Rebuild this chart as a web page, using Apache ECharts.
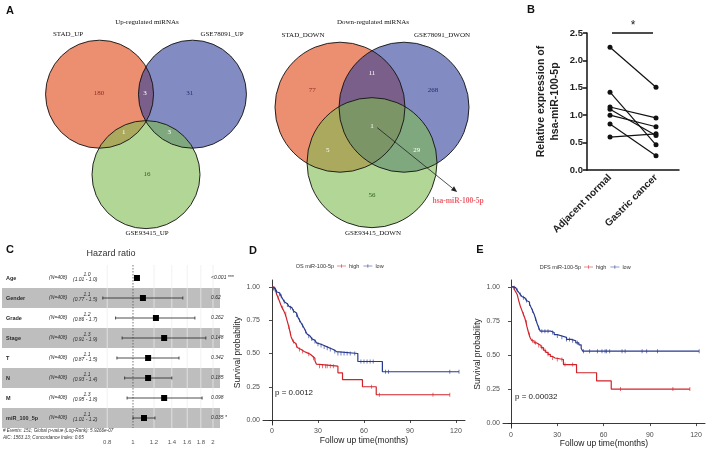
<!DOCTYPE html>
<html><head><meta charset="utf-8">
<script src="https://cdn.jsdelivr.net/npm/echarts@6/dist/echarts.min.js"></script>
<style>html,body{margin:0;padding:0;background:#fff}#c{width:708px;height:449px}</style>
</head><body><div id="c"></div>
<script>
// ================= DATA =================
// Panel A – Venn diagrams
const upTitle = 'Up-regulated miRNAs';
const upSetNames = ['STAD_UP', 'GSE78091_UP', 'GSE93415_UP'];
const upCounts = [180, 3, 31, 1, 3, 16];            // A, AB, B, AC, BC, C
const downTitle = 'Down-regulated miRNAs';
const downSetNames = ['STAD_DOWN', 'GSE78091_DWON', 'GSE93415_DOWN'];
const downCounts = [77, 11, 268, 1, 5, 29, 56];     // A, AB, B, ABC, AC, BC, C
const highlightMiRNA = 'hsa-miR-100-5p';

// Panel B – paired expression
const pairCategories = ['Adjacent normal', 'Gastric cancer'];
const adjacentNormal = [2.24, 1.42, 1.15, 1.11, 1.00, 0.84, 0.60];
const gastricCancer  = [1.51, 0.46, 0.95, 0.63, 0.79, 0.26, 0.66];
const sigMark = '*';
const bTicks = [0, 2.5, 0.5];

// Panel C – Cox forest plot
const coxVars   = ['Age', 'Gender', 'Grade', 'Stage', 'T', 'N', 'M', 'miR_100_5p'];
const coxN      = ['(N=408)', '(N=408)', '(N=408)', '(N=408)', '(N=408)', '(N=408)', '(N=408)', '(N=408)'];
const coxHR     = [1.035, 1.09, 1.22, 1.31, 1.14, 1.14, 1.31, 1.10];
const coxLo     = [1.02, 0.77, 0.86, 0.91, 0.87, 0.93, 0.95, 1.00];
const coxHi     = [1.05, 1.54, 1.71, 1.88, 1.49, 1.40, 1.82, 1.21];
const coxHRText = ['1.0', '1.1', '1.2', '1.3', '1.1', '1.1', '1.3', '1.1'];
const coxCIText = ['(1.01 - 1.0)', '(0.77 - 1.5)', '(0.86 - 1.7)', '(0.91 - 1.9)', '(0.87 - 1.5)', '(0.93 - 1.4)', '(0.95 - 1.8)', '(1.01 - 1.2)'];
const coxP      = ['<0.001 ***', '0.62', '0.262', '0.148', '0.342', '0.185', '0.098', '0.035 *'];
const hrTicks   = [0.8, 1, 1.2, 1.4, 1.6, 1.8, 2];
const coxFooter = ['# Events: 151; Global p-value (Log-Rank): 5.9266e-07', 'AIC: 1563.13; Concordance Index: 0.65'];

// Panel D – OS Kaplan-Meier  [time, survival]
const osHigh = [[0,1],[1.5,0.985],[2.5,0.97],[3,0.945],[4,0.92],[5,0.89],[5.8,0.865],[6.5,0.845],[7.5,0.825],[8.5,0.80],[9.2,0.775],[9.8,0.75],[10.4,0.725],[11,0.70],[11.5,0.675],[12,0.65],[12.5,0.625],[13,0.61],[13.8,0.59],[14.5,0.575],[15.5,0.56],[16.5,0.545],[17.5,0.53],[19,0.515],[21,0.505],[23,0.495],[25,0.48],[26.5,0.465],[28,0.445],[29,0.42],[30,0.405],[43,0.355],[46,0.303],[59,0.25],[68,0.19],[116,0.19]];
const osLow = [[0,1],[1,0.99],[2,0.98],[3,0.965],[4,0.955],[5,0.945],[6,0.93],[7,0.91],[8,0.89],[9,0.875],[10,0.865],[11,0.855],[12,0.845],[13,0.835],[14,0.82],[15,0.805],[16,0.79],[17,0.77],[18,0.75],[19,0.73],[20,0.71],[21,0.69],[22,0.665],[23,0.645],[24,0.63],[25,0.62],[26,0.61],[27,0.60],[28,0.59],[29,0.58],[30,0.57],[32,0.56],[34,0.55],[36,0.54],[38,0.53],[40,0.515],[42,0.50],[56,0.44],[72,0.363],[122,0.363]];
const osHighCensor = [4,7,9,11,12,14,16,18,20,24,27,31,33,35,36,38,40,65,70,105,116];
const osLowCensor = [1,2,3,5,6,8,10,12,14,16,18,20,22,24,26,28,30,32,34,36,38,41,43,45,47,49,51,54,58,60,62,64,66,74,76,116,122];
const osP = 'p = 0.0012';
const osLegendTitle = 'OS miR-100-5p';

// Panel E – DFS Kaplan-Meier
const dfsHigh = [[0,1],[2,0.985],[3,0.965],[4,0.945],[5,0.90],[6,0.86],[7,0.83],[8,0.80],[9,0.77],[9.7,0.74],[10.3,0.71],[11,0.68],[11.7,0.65],[12.5,0.625],[13.5,0.605],[15,0.59],[16.5,0.58],[18,0.57],[19.5,0.555],[21,0.535],[22.5,0.52],[24,0.505],[25.5,0.49],[27,0.478],[28.5,0.467],[34,0.43],[42.5,0.37],[55.5,0.31],[65,0.25],[116,0.25]];
const dfsLow = [[0,1],[1.5,0.995],[3,0.985],[4,0.975],[5,0.96],[6,0.945],[7,0.93],[8,0.92],[9,0.91],[10,0.90],[11,0.89],[12,0.875],[13,0.85],[14,0.825],[15,0.80],[16,0.765],[17,0.73],[18,0.70],[19,0.675],[26,0.665],[28,0.65],[30,0.64],[33,0.63],[36,0.615],[39,0.605],[42,0.59],[44,0.575],[45.5,0.55],[46.5,0.528],[122,0.528]];
const dfsHighCensor = [8,10,12,14,16,18,20,22,24,27,30,33,35,40,71,105,116];
const dfsLowCensor = [2,4,6,8,10,12,14,16,18,20,22,24,27,30,33,36,38,40,43,47,51,56,59,61,62,64,72,74,85,88,95,122];
const dfsP = 'p = 0.00032';
const dfsLegendTitle = 'DFS miR-100-5p';
const kmTicksX = [0, 30, 60, 90, 120];
const kmTicksY = [0, 0.25, 0.5, 0.75, 1];

// ================= RENDER =================
const FONT = 'Liberation Sans';
const SERIF = 'Liberation Serif';
const RED = '#d2232a', BLUE = '#283a8f';
const chart = echarts.init(document.getElementById('c'), null, {renderer: 'canvas', width: 708, height: 449});

function vennCenters(s) { const h = s * Math.sqrt(3) / 2; return [[-s / 2, h / 3], [s / 2, h / 3], [0, -2 * h / 3]]; }
const vennFill = ['rgba(223,67,17,0.6)', 'rgba(47,63,155,0.6)', 'rgba(127,187,80,0.6)'];

function vennCircles(gi, s, stroke) {
  return {
    type: 'custom', xAxisIndex: gi, yAxisIndex: gi, silent: true, z: stroke ? 3 : 2,
    data: vennCenters(s).map((c, i) => [c[0], c[1], i]),
    renderItem(params, api) {
      const p = api.coord([api.value(0), api.value(1)]);
      const r = api.size([1, 1])[0];
      return {type: 'circle', shape: {cx: p[0], cy: p[1], r: r},
        style: stroke ? {fill: 'none', stroke: '#111', lineWidth: 0.9} : {fill: vennFill[api.value(2)]}};
    }
  };
}
function vennLabels(gi, pos, counts, colors) {
  return {
    type: 'custom', xAxisIndex: gi, yAxisIndex: gi, silent: true, z: 4,
    data: counts.map((c, i) => [pos[i][0], pos[i][1], c, i]),
    renderItem(params, api) {
      const p = api.coord([api.value(0), api.value(1)]);
      return {type: 'text', x: p[0], y: p[1], style: {text: String(api.value(2)), fill: colors[api.value(3)],
        font: '7px ' + SERIF, align: 'center', verticalAlign: 'middle'}};
    }
  };
}
const upLabelPos = [[-0.87, 0.52], [-0.02, 0.52], [0.81, 0.52], [-0.41, -0.2], [0.43, -0.2], [0.02, -0.98]];
const upLabelColor = ['#8e2d1e', '#fff', '#222b6b', '#fff', '#fff', '#2c5e1e'];
const downLabelPos = [[-0.92, 0.55], [0, 0.81], [0.94, 0.55], [0, 0], [-0.68, -0.37], [0.69, -0.37], [0, -1.07]];
const downLabelColor = ['#8e2d1e', '#fff', '#222b6b', '#fff', '#fff', '#fff', '#2c5e1e'];

const arrowSeries = {
  type: 'custom', xAxisIndex: 1, yAxisIndex: 1, silent: true, z: 5,
  data: [[0.08, -0.03, 1.31, -1.02]],
  renderItem(params, api) {
    const a = api.coord([api.value(0), api.value(1)]);
    const b = api.coord([api.value(2), api.value(3)]);
    const ang = Math.atan2(b[1] - a[1], b[0] - a[0]);
    const L = 6, W = 2.5;
    const bx = b[0] - L * Math.cos(ang), by = b[1] - L * Math.sin(ang);
    return {type: 'group', children: [
      {type: 'line', shape: {x1: a[0], y1: a[1], x2: bx, y2: by}, style: {stroke: '#222', lineWidth: 0.8}},
      {type: 'polygon', shape: {points: [[b[0], b[1]], [bx - W * Math.sin(ang), by + W * Math.cos(ang)], [bx + W * Math.sin(ang), by - W * Math.cos(ang)]]}, style: {fill: '#222'}},
      {type: 'text', x: b[0] + 1, y: b[1] + 9, style: {text: highlightMiRNA, fill: '#f0646e', font: 'bold 7.5px ' + SERIF, align: 'center', verticalAlign: 'middle'}}
    ]};
  }
};

// Panel B series
const pairSeries = adjacentNormal.map((v, i) => ({
  type: 'line', xAxisIndex: 2, yAxisIndex: 2, data: [v, gastricCancer[i]], symbol: 'circle', symbolSize: 5,
  itemStyle: {color: '#111'}, lineStyle: {color: '#111', width: 1.2}, silent: true
}));
const sigSeries = {
  type: 'custom', xAxisIndex: 2, yAxisIndex: 2, silent: true, clip: false,
  data: [[0, 1, 2.5]],
  renderItem(params, api) {
    const a = api.coord([api.value(0), api.value(2)]);
    const b = api.coord([api.value(1), api.value(2)]);
    return {type: 'group', children: [
      {type: 'line', shape: {x1: a[0] + 2, y1: a[1], x2: b[0] - 3, y2: b[1]}, style: {stroke: '#111', lineWidth: 1.4}},
      {type: 'text', x: (a[0] + b[0]) / 2, y: a[1] - 7, style: {text: sigMark, fill: '#222', font: '12px ' + FONT, align: 'center', verticalAlign: 'middle'}}
    ]};
  }
};

// Panel C series
const L = Math.log;
const bandSeries = {
  type: 'custom', xAxisIndex: 3, yAxisIndex: 3, silent: true, z: 1,
  data: coxVars.map((v, i) => [0, i]),
  renderItem(params, api) {
    const row = api.value(1);
    if (row % 2 === 0) return null;
    const c = api.coord([0, row]);
    const h = api.size([0, 1])[1];
    const cs = params.coordSys;
    return {type: 'rect', shape: {x: cs.x, y: c[1] - h / 2, width: cs.width, height: h}, style: {fill: '#bebebe'}};
  }
};
const gridLineSeries = {
  type: 'custom', xAxisIndex: 3, yAxisIndex: 3, silent: true, z: 2, clip: false,
  data: hrTicks.map(v => [L(v), v]),
  renderItem(params, api) {
    const x = api.coord([api.value(0), 0])[0];
    const cs = params.coordSys;
    const ref = api.value(1) === 1;
    return {type: 'line', shape: {x1: x, y1: cs.y - 3, x2: x, y2: cs.y + cs.height},
      style: ref ? {stroke: '#555', lineWidth: 0.8, lineDash: [1.5, 1.5]} : {stroke: 'rgba(235,235,235,0.9)', lineWidth: 0.8}};
  }
};
const forestSeries = {
  type: 'custom', xAxisIndex: 3, yAxisIndex: 3, silent: true, z: 3, clip: false,
  data: coxHR.map((v, i) => [i, L(v), L(coxLo[i]), L(coxHi[i])]),
  renderItem(params, api) {
    const row = api.value(0);
    const p = api.coord([api.value(1), row]);
    const lo = api.coord([api.value(2), row]);
    const hi = api.coord([api.value(3), row]);
    const y = p[1];
    return {type: 'group', children: [
      {type: 'line', shape: {x1: lo[0], y1: y, x2: hi[0], y2: y}, style: {stroke: '#222', lineWidth: 0.8}},
      {type: 'line', shape: {x1: lo[0], y1: y - 1.5, x2: lo[0], y2: y + 1.5}, style: {stroke: '#222', lineWidth: 0.8}},
      {type: 'line', shape: {x1: hi[0], y1: y - 1.5, x2: hi[0], y2: y + 1.5}, style: {stroke: '#222', lineWidth: 0.8}},
      {type: 'rect', shape: {x: p[0] - 3, y: y - 3, width: 6, height: 6}, style: {fill: '#000'}}
    ]};
  }
};
const forestTextSeries = {
  type: 'custom', xAxisIndex: 3, yAxisIndex: 3, silent: true, z: 4, clip: false,
  data: coxVars.map((v, i) => [0, i]),
  renderItem(params, api) {
    const i = api.value(1);
    const y = api.coord([0, i])[1];
    const x0 = params.coordSys.x;
    const t = (txt, x, yy, font, align) => ({type: 'text', x: x, y: yy, style: {text: txt, fill: '#2a2a2a', font: font, align: align || 'left', verticalAlign: 'middle'}});
    return {type: 'group', children: [
      t(coxVars[i], x0 + 4, y, 'bold 5.5px ' + FONT),
      t(coxN[i], x0 + 47, y, 'italic 5px ' + FONT),
      t(coxHRText[i], x0 + 85, y - 3, 'italic 5px ' + FONT, 'center'),
      t(coxCIText[i], x0 + 71, y + 1.5, 'italic 5px ' + FONT),
      t(coxP[i], x0 + 209, y, 'italic 5px ' + FONT)
    ]};
  }
};

// Panel D/E helpers
function survAt(curve, t) { let s = 1; for (const [ti, si] of curve) { if (ti <= t) s = si; } return s; }
function kmLine(name, data, color, gi) {
  return {type: 'line', name: name, xAxisIndex: gi, yAxisIndex: gi, data: data, step: 'end', symbol: 'none',
    lineStyle: {color: color, width: 1.2}, itemStyle: {color: color}, silent: true};
}
function kmCensor(curve, times, color, gi) {
  return {type: 'scatter', name: 'censor', xAxisIndex: gi, yAxisIndex: gi, data: times.map(t => [t, survAt(curve, t)]),
    symbol: 'rect', symbolSize: [0.8, 4], itemStyle: {color: color}, silent: true, z: 3};
}
function kmX(gi, min, max, gap) {
  return {gridIndex: gi, type: 'value', min: min, max: max, splitLine: {show: false},
    axisLine: {lineStyle: {color: '#222', width: 0.9}},
    axisTick: {customValues: kmTicksX, length: 3, lineStyle: {color: '#222', width: 0.8}},
    axisLabel: {customValues: kmTicksX, fontSize: 7, color: '#4d4d4d', margin: 3, fontFamily: FONT},
    name: 'Follow up time(months)', nameLocation: 'middle', nameGap: gap,
    nameTextStyle: {fontSize: 8.5, color: '#222', fontFamily: FONT}};
}
function kmY(gi, min, max) {
  return {gridIndex: gi, type: 'value', min: min, max: max, splitLine: {show: false},
    axisLine: {lineStyle: {color: '#222', width: 0.9}},
    axisTick: {customValues: kmTicksY, length: 3, lineStyle: {color: '#222', width: 0.8}},
    axisLabel: {customValues: kmTicksY, fontSize: 7, color: '#4d4d4d', margin: 3, fontFamily: FONT, formatter: v => v.toFixed(2)},
    name: 'Survival probability', nameLocation: 'middle', nameGap: 17, nameRotate: 90,
    nameTextStyle: {fontSize: 8.5, color: '#222', fontFamily: FONT}};
}
const legendIcon = 'path://M0,3.5h16v1h-16zM7.5,1h1v6h-1z';
function kmLegend(left, top) {
  return {left: left, top: top, itemWidth: 9, itemHeight: 5, itemGap: 4, padding: 0, icon: legendIcon,
    data: ['high', 'low'], selectedMode: false, textStyle: {fontSize: 5.5, color: '#333', fontFamily: FONT, padding: [0, 0, 0, -2]}};
}

const hidden = gi => ({gridIndex: gi, type: 'value', min: -1.8, max: 1.8, show: false});
const txt = (text, x, y, font, fill, align) => ({type: 'text', x: x, y: y, silent: true,
  style: {text: text, font: font, fill: fill || '#111', align: align || 'center', verticalAlign: 'middle'}});

const option = {
  animation: false,
  textStyle: {fontFamily: FONT},
  grid: [
    {left: 48.8, top: 23.8, width: 194.4, height: 194.4},
    {left: 255, top: 8.7, width: 234, height: 234},
    {left: 587, top: 33, width: 92, height: 137},
    {left: 2, top: 268, width: 218, height: 160},
    {left: 263, top: 280, width: 202, height: 145},
    {left: 503, top: 280, width: 202, height: 149}
  ],
  xAxis: [
    hidden(0), hidden(1),
    {gridIndex: 2, type: 'category', data: pairCategories, boundaryGap: true,
      axisLine: {lineStyle: {color: '#111', width: 1.5}},
      axisTick: {alignWithLabel: true, length: 4, lineStyle: {color: '#111', width: 1.5}},
      axisLabel: {rotate: 45, interval: 0, fontSize: 10, fontWeight: 'bold', color: '#222', margin: 6, fontFamily: FONT}},
    {gridIndex: 3, type: 'value', min: -1.135, max: 0.754, splitLine: {show: false}, axisLine: {show: false}, axisTick: {show: false},
      axisLabel: {customValues: hrTicks.map(v => L(v)), formatter: v => String(Math.round(Math.exp(v) * 10) / 10), fontSize: 6, color: '#555', margin: 11, fontFamily: FONT}},
    kmX(4, -5.87, 125.9, 8),
    kmX(5, -5.19, 125.8, 8)
  ],
  yAxis: [
    hidden(0), hidden(1),
    {gridIndex: 2, type: 'value', min: bTicks[0], max: bTicks[1], interval: bTicks[2], splitLine: {show: false},
      axisLine: {show: true, lineStyle: {color: '#111', width: 1.5}},
      axisTick: {show: true, length: 4, lineStyle: {color: '#111', width: 1.5}},
      axisLabel: {fontSize: 9.5, fontWeight: 'bold', color: '#222', margin: 4, formatter: v => v.toFixed(1), fontFamily: FONT},
      name: 'Relative expression of\nhsa-miR-100-5p', nameLocation: 'middle', nameGap: 25, nameRotate: 90,
      nameTextStyle: {fontSize: 10.5, fontWeight: 'bold', color: '#222', lineHeight: 14, fontFamily: FONT}},
    {gridIndex: 3, type: 'category', data: coxVars, inverse: true, show: false},
    kmY(4, -0.0376, 1.053),
    kmY(5, -0.0365, 1.051)
  ],
  legend: [kmLegend(337, 263), kmLegend(584, 264)],
  series: [
    vennCircles(0, 1.72, false), vennCircles(0, 1.72, true), vennLabels(0, upLabelPos, upCounts, upLabelColor),
    vennCircles(1, 0.985, false), vennCircles(1, 0.985, true), vennLabels(1, downLabelPos, downCounts, downLabelColor),
    arrowSeries,
    ...pairSeries, sigSeries,
    bandSeries, gridLineSeries, forestSeries, forestTextSeries,
    kmLine('high', osHigh, RED, 4), kmLine('low', osLow, BLUE, 4),
    kmCensor(osHigh, osHighCensor, RED, 4), kmCensor(osLow, osLowCensor, BLUE, 4),
    kmLine('high', dfsHigh, RED, 5), kmLine('low', dfsLow, BLUE, 5),
    kmCensor(dfsHigh, dfsHighCensor, RED, 5), kmCensor(dfsLow, dfsLowCensor, BLUE, 5)
  ],
  graphic: [
    txt('A', 10, 11, 'bold 11px ' + FONT),
    txt('B', 531, 10, 'bold 11px ' + FONT),
    txt('C', 10, 250, 'bold 11px ' + FONT),
    txt('D', 253, 251, 'bold 11px ' + FONT),
    txt('E', 480, 250, 'bold 11px ' + FONT),
    txt(upTitle, 147, 22, '7px ' + SERIF),
    txt(upSetNames[0], 68, 34, '7px ' + SERIF),
    txt(upSetNames[1], 222, 34, '7px ' + SERIF),
    txt(upSetNames[2], 147, 233, '7px ' + SERIF),
    txt(downTitle, 373, 22, '7px ' + SERIF),
    txt(downSetNames[0], 303, 35, '7px ' + SERIF),
    txt(downSetNames[1], 442, 35, '7px ' + SERIF),
    txt(downSetNames[2], 373, 233, '7px ' + SERIF),
    txt('Hazard ratio', 111, 254, '9px ' + FONT, '#333'),
    txt(coxFooter[0], 3, 431, 'italic 4.6px ' + FONT, '#333', 'left'),
    txt(coxFooter[1], 3, 437.5, 'italic 4.6px ' + FONT, '#333', 'left'),
    txt(osLegendTitle, 334, 266, '5.5px ' + FONT, '#333', 'right'),
    txt(dfsLegendTitle, 581, 267, '5.5px ' + FONT, '#333', 'right'),
    txt(osP, 275, 393, '8px ' + FONT, '#222', 'left'),
    txt(dfsP, 515, 397, '8px ' + FONT, '#222', 'left')
  ]
};
chart.setOption(option);
</script></body></html>
